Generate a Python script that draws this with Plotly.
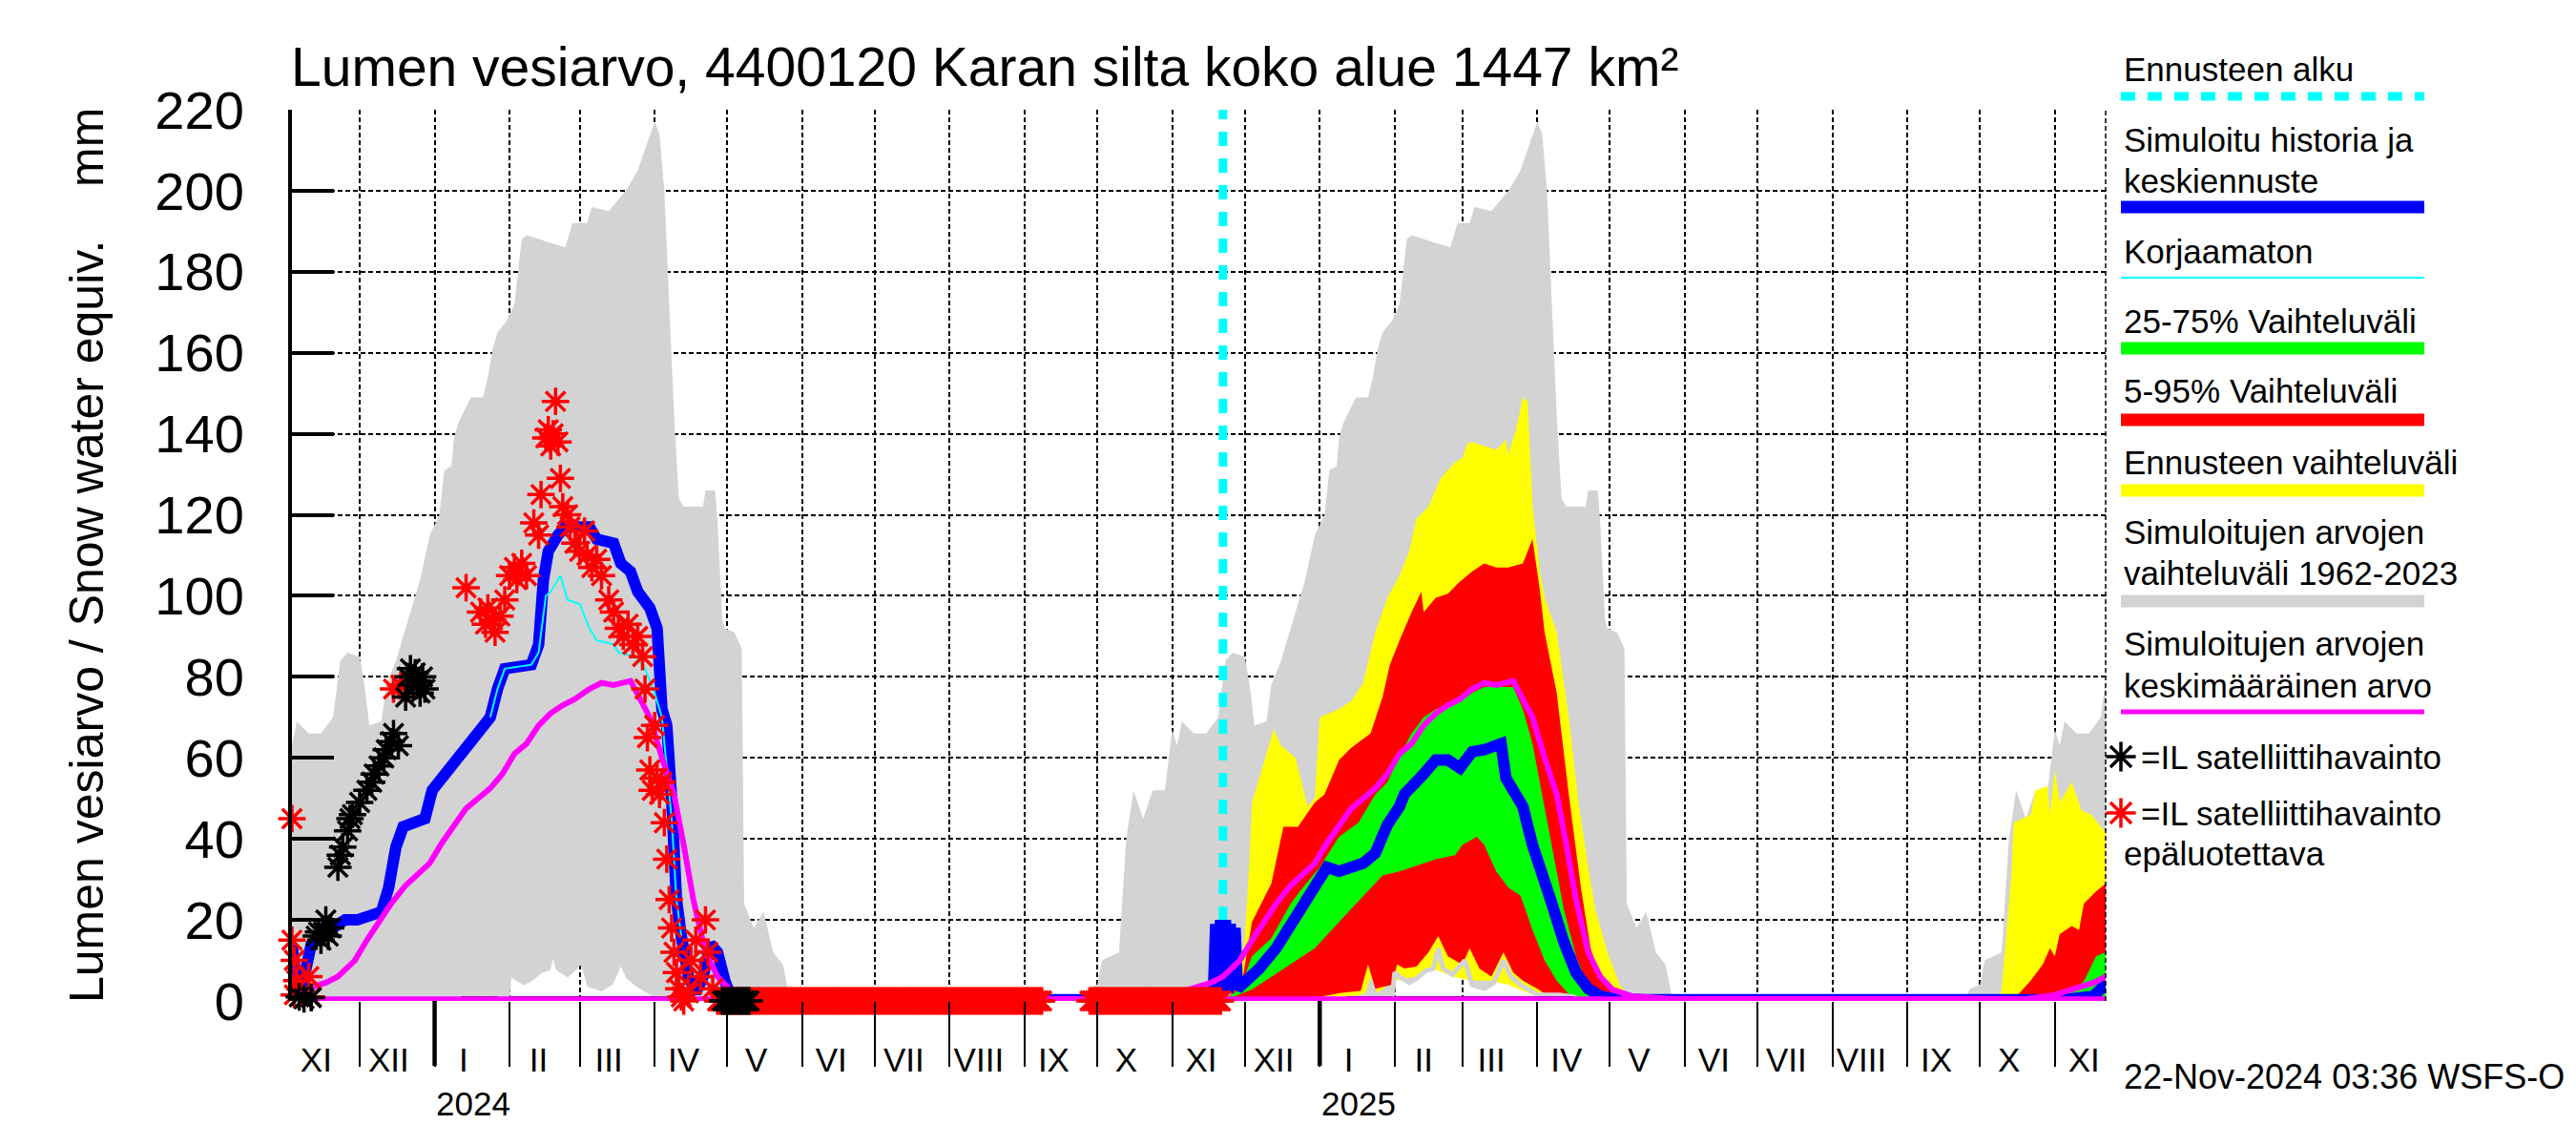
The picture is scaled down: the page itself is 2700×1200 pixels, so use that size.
import pandas as pd
import plotly.graph_objects as go

W, H = 2700, 1200
OFF = 8   # the page body adds an 8 px margin; pixel positions below are for the final picture
FONT = "Liberation Sans, Arial, Helvetica, sans-serif"
PL, PR, PT, PB = 306, 2207, 115, 1049   # plot area in pixels

X_RANGE = ["2023-11-03", "2025-11-22"]
Y_RANGE = [0, 220]
Y_TICKS = list(range(0, 221, 20))
FORECAST_START = "2024-11-22"
SEASONS = [2023, 2024, 2025]

# ---- climatology of simulated values 1962-2023 (same every season), month-day anchors
HIST_MAX = [("09-24", 0), ("09-27", 3), ("10-01", 4), ("10-03", 10), ("10-10", 12), ("10-13", 40),
            ("10-16", 52), ("10-20", 45), ("10-24", 52), ("10-29", 52), ("11-01", 67), ("11-03", 63),
            ("11-05", 69), ("11-10", 66), ("11-15", 66), ("11-20", 70), ("11-23", 84), ("11-26", 86),
            ("12-01", 85), ("12-03", 78), ("12-05", 68), ("12-10", 69), ("12-12", 78), ("12-16", 84),
            ("12-20", 92), ("12-26", 104), ("12-30", 115), ("01-03", 120), ("01-05", 131), ("01-08", 132),
            ("01-09", 139), ("01-11", 143), ("01-16", 149), ("01-21", 149), ("01-23", 154), ("01-25", 161),
            ("01-27", 165), ("01-31", 168), ("02-03", 172), ("02-06", 188), ("02-08", 189), ("02-24", 186),
            ("02-27", 192), ("03-04", 192), ("03-06", 196), ("03-13", 195), ("03-20", 200), ("03-25", 205),
            ("03-29", 212), ("04-01", 217), ("04-03", 214), ("04-05", 200), ("04-07", 172), ("04-09", 145),
            ("04-11", 124), ("04-13", 122), ("04-21", 122), ("04-22", 126), ("04-26", 126), ("04-27", 118),
            ("04-29", 94), ("04-30", 92), ("05-04", 91), ("05-07", 87), ("05-08", 24), ("05-12", 18),
            ("05-16", 22), ("05-20", 12), ("05-24", 9), ("05-27", 0)]
HIST_MIN = [("09-24", 0), ("12-31", 0), ("01-02", 0.5), ("01-31", 1), ("02-01", 7), ("02-03", 6),
            ("02-07", 4.5), ("02-10", 5.5), ("02-14", 7.5), ("02-17", 8), ("02-19", 13), ("02-21", 8),
            ("02-25", 6.5), ("03-02", 10), ("03-05", 4), ("03-10", 3), ("03-14", 4.5), ("03-18", 10),
            ("03-21", 6), ("03-25", 4), ("03-28", 3), ("04-01", 1.5), ("04-10", 1.5), ("04-16", 1),
            ("04-18", 0), ("05-27", 0)]
HIST_MEAN = [("10-01", 0.4), ("10-20", 0.5), ("11-01", 1.5), ("11-09", 3), ("11-17", 4.5), ("11-22", 6),
             ("11-29", 10), ("12-04", 15), ("12-09", 19.5), ("12-14", 24), ("12-20", 28.5), ("12-25", 31.5),
             ("12-30", 34), ("01-04", 39), ("01-09", 43.5), ("01-14", 47.5), ("01-19", 50), ("01-24", 52.5),
             ("01-29", 56), ("02-03", 61), ("02-08", 63.5), ("02-13", 68), ("02-18", 71), ("02-23", 73),
             ("02-28", 74.5), ("03-05", 77), ("03-10", 78.5), ("03-15", 78), ("03-22", 79), ("03-26", 74.5),
             ("03-30", 70), ("04-04", 60), ("04-09", 51), ("04-13", 38.5), ("04-17", 25), ("04-22", 12),
             ("04-27", 6), ("05-02", 2.8), ("05-10", 1.2), ("05-25", 0.6), ("06-15", 0.4), ("09-30", 0.4)]

# ---- simulated history + median forecast
BLUE = [("2023-11-03", 14), ("2023-11-04", 8), ("2023-11-05", 4), ("2023-11-07", 3), ("2023-11-09", 10),
        ("2023-11-11", 14), ("2023-11-15", 16), ("2023-11-20", 18), ("2023-11-25", 20), ("2023-11-30", 20),
        ("2023-12-05", 21), ("2023-12-10", 22), ("2023-12-13", 28), ("2023-12-16", 38), ("2023-12-19", 43),
        ("2023-12-28", 45), ("2023-12-31", 52), ("2024-01-04", 55), ("2024-01-08", 58), ("2024-01-12", 62),
        ("2024-01-16", 64), ("2024-01-20", 68), ("2024-01-24", 70), ("2024-01-27", 77), ("2024-01-30", 82),
        ("2024-02-10", 83), ("2024-02-13", 88), ("2024-02-15", 104), ("2024-02-17", 111), ("2024-02-21", 115),
        ("2024-02-24", 117), ("2024-03-05", 117), ("2024-03-08", 114), ("2024-03-15", 113), ("2024-03-18", 108),
        ("2024-03-22", 106), ("2024-03-25", 101), ("2024-03-30", 97), ("2024-04-02", 92), ("2024-04-04", 72),
        ("2024-04-06", 68), ("2024-04-08", 50), ("2024-04-10", 25), ("2024-04-12", 16), ("2024-04-15", 6),
        ("2024-04-18", 2), ("2024-04-21", 6), ("2024-04-24", 14), ("2024-04-27", 12), ("2024-04-30", 5),
        ("2024-05-03", 0.3), ("2024-10-28", 0.3), ("2024-11-05", 1), ("2024-11-15", 1.5), ("2024-11-18", 1),
        ("2024-11-19", 19), ("2024-11-20", 3), ("2024-11-21", 20), ("2024-11-22", 3), ("2024-11-23", 20),
        ("2024-11-24", 2), ("2024-11-25", 19), ("2024-11-26", 4), ("2024-11-27", 18), ("2024-11-28", 3),
        ("2024-12-02", 5), ("2024-12-07", 8), ("2024-12-14", 13), ("2024-12-20", 18.5), ("2024-12-25", 24),
        ("2024-12-30", 28), ("2025-01-04", 33), ("2025-01-09", 32), ("2025-01-14", 33), ("2025-01-19", 34),
        ("2025-01-24", 36.5), ("2025-01-29", 43.5), ("2025-02-03", 48), ("2025-02-05", 51), ("2025-02-13", 56),
        ("2025-02-18", 59.5), ("2025-02-23", 59.5), ("2025-02-28", 57.5), ("2025-03-05", 61.5),
        ("2025-03-10", 62), ("2025-03-17", 63.5), ("2025-03-19", 55), ("2025-03-22", 52), ("2025-03-26", 48),
        ("2025-03-30", 38.5), ("2025-04-03", 32), ("2025-04-07", 24), ("2025-04-12", 14.5), ("2025-04-17", 7),
        ("2025-04-22", 3), ("2025-04-27", 1.2), ("2025-05-02", 0.6), ("2025-05-15", 0.3), ("2025-11-05", 0.3),
        ("2025-11-12", 0.6), ("2025-11-17", 1.2), ("2025-11-21", 3.5), ("2025-11-22", 3)]

# ---- uncorrected simulation (only where it differs from the corrected one)
UNCORRECTED = [("2024-01-24", 70), ("2024-01-27", 77), ("2024-01-30", 82), ("2024-02-10", 83),
               ("2024-02-13", 86), ("2024-02-16", 100), ("2024-02-18", 101), ("2024-02-22", 105),
               ("2024-02-25", 99), ("2024-03-01", 98), ("2024-03-05", 92), ("2024-03-08", 89),
               ("2024-03-15", 88), ("2024-03-17", 86), ("2024-03-24", 85), ("2024-03-28", 82),
               ("2024-04-01", 76), ("2024-04-04", 70), ("2024-04-08", 45), ("2024-04-10", 25), ("2024-04-12", 16)]

# ---- forecast ranges
YELLOW_HI = [("2024-11-22", 0), ("2024-11-26", 2), ("2024-11-29", 8), ("2024-12-01", 15), ("2024-12-03", 35),
             ("2024-12-04", 49), ("2024-12-09", 59), ("2024-12-13", 67), ("2024-12-16", 63), ("2024-12-22", 60),
             ("2024-12-27", 48), ("2024-12-30", 50), ("2025-01-01", 70), ("2025-01-09", 72), ("2025-01-14", 74),
             ("2025-01-19", 78.5), ("2025-01-24", 91), ("2025-01-29", 99.5), ("2025-02-03", 105),
             ("2025-02-07", 111), ("2025-02-10", 119), ("2025-02-15", 122), ("2025-02-20", 129),
             ("2025-02-26", 133), ("2025-03-01", 134), ("2025-03-03", 137.5), ("2025-03-05", 138),
             ("2025-03-10", 137), ("2025-03-15", 136), ("2025-03-19", 138.5), ("2025-03-20", 135),
             ("2025-03-23", 140.5), ("2025-03-26", 149), ("2025-03-28", 148), ("2025-03-30", 122.5),
             ("2025-04-02", 106), ("2025-04-04", 99.5), ("2025-04-09", 91), ("2025-04-14", 70), ("2025-04-18", 49),
             ("2025-04-22", 33), ("2025-04-25", 22.5), ("2025-04-30", 12), ("2025-05-05", 4), ("2025-05-10", 0.5),
             ("2025-05-12", 0), ("2025-10-09", 0), ("2025-10-10", 3), ("2025-10-12", 17), ("2025-10-14", 31),
             ("2025-10-15", 44), ("2025-10-22", 46), ("2025-10-24", 52), ("2025-10-29", 53), ("2025-10-30", 46),
             ("2025-11-01", 57), ("2025-11-03", 49), ("2025-11-07", 53), ("2025-11-08", 54), ("2025-11-12", 47),
             ("2025-11-16", 46), ("2025-11-22", 41.5)]
YELLOW_LO = [("2024-11-22", 0), ("2025-01-01", 0.5), ("2025-01-15", 1), ("2025-01-20", 2), ("2025-01-22", 6),
             ("2025-01-25", 2), ("2025-02-01", 5), ("2025-02-10", 6), ("2025-02-17", 8), ("2025-02-25", 6),
             ("2025-03-05", 5), ("2025-03-12", 5), ("2025-03-20", 4), ("2025-03-28", 2), ("2025-04-05", 0.5),
             ("2025-04-10", 0), ("2025-11-22", 0)]
RED_HI = [("2024-11-22", 0), ("2024-11-26", 2), ("2024-11-30", 5), ("2024-12-02", 12), ("2024-12-04", 19.5),
          ("2024-12-12", 29), ("2024-12-17", 43), ("2024-12-23", 43), ("2024-12-30", 49), ("2025-01-03", 51),
          ("2025-01-09", 59.5), ("2025-01-14", 62.5), ("2025-01-22", 66), ("2025-01-27", 75), ("2025-01-30", 83),
          ("2025-02-03", 89), ("2025-02-08", 96), ("2025-02-12", 101), ("2025-02-13", 96), ("2025-02-18", 99.5),
          ("2025-02-23", 100.5), ("2025-02-28", 103.5), ("2025-03-05", 106), ("2025-03-10", 108),
          ("2025-03-15", 107), ("2025-03-20", 107), ("2025-03-26", 108), ("2025-03-30", 114), ("2025-04-02", 101.5),
          ("2025-04-04", 91), ("2025-04-09", 76), ("2025-04-14", 51), ("2025-04-19", 28), ("2025-04-23", 13),
          ("2025-04-27", 6), ("2025-05-02", 1.7), ("2025-05-07", 0), ("2025-10-15", 0), ("2025-10-17", 1.7),
          ("2025-10-22", 5), ("2025-10-27", 9), ("2025-10-30", 13), ("2025-11-01", 11), ("2025-11-03", 16.5),
          ("2025-11-08", 18.5), ("2025-11-11", 17.5), ("2025-11-13", 24), ("2025-11-18", 27), ("2025-11-22", 29)]
RED_LO = [("2024-11-22", 0), ("2024-12-01", 0.5), ("2024-12-30", 0.5), ("2025-01-01", 1), ("2025-01-10", 2),
          ("2025-01-18", 2.5), ("2025-01-21", 9), ("2025-01-24", 3), ("2025-01-31", 4), ("2025-02-02", 9),
          ("2025-02-05", 8), ("2025-02-10", 8.5), ("2025-02-15", 12), ("2025-02-19", 16), ("2025-02-23", 11),
          ("2025-03-01", 9), ("2025-03-04", 13), ("2025-03-08", 8), ("2025-03-13", 6), ("2025-03-18", 12),
          ("2025-03-22", 7), ("2025-03-26", 5), ("2025-04-01", 3), ("2025-04-06", 1), ("2025-04-12", 0),
          ("2025-11-22", 0)]
GREEN_HI = [("2024-11-22", 0), ("2024-11-29", 3), ("2024-12-04", 11), ("2024-12-12", 15.5), ("2024-12-20", 24),
            ("2024-12-25", 28), ("2025-01-01", 33), ("2025-01-09", 40.5), ("2025-01-17", 44), ("2025-01-24", 51),
            ("2025-01-29", 54), ("2025-02-03", 60.5), ("2025-02-08", 66), ("2025-02-13", 70), ("2025-02-18", 72),
            ("2025-02-23", 73), ("2025-02-28", 74), ("2025-03-05", 76), ("2025-03-10", 77.5), ("2025-03-22", 77.5),
            ("2025-03-26", 72), ("2025-03-30", 63.5), ("2025-04-03", 51), ("2025-04-07", 38.5), ("2025-04-12", 22.5),
            ("2025-04-17", 11), ("2025-04-22", 3.7), ("2025-04-27", 1.2), ("2025-05-02", 0), ("2025-11-04", 0),
            ("2025-11-06", 1.7), ("2025-11-13", 4.8), ("2025-11-18", 11), ("2025-11-22", 12)]
GREEN_LO = [("2024-11-22", 0), ("2024-12-04", 2.8), ("2024-12-12", 6), ("2024-12-20", 9), ("2024-12-30", 13),
            ("2025-01-09", 19.5), ("2025-01-19", 26), ("2025-01-27", 31), ("2025-02-03", 32), ("2025-02-08", 33),
            ("2025-02-18", 35), ("2025-02-26", 36), ("2025-03-01", 38.5), ("2025-03-07", 40.5), ("2025-03-10", 38.5),
            ("2025-03-15", 32), ("2025-03-20", 28), ("2025-03-25", 26), ("2025-03-30", 17.5), ("2025-04-04", 10),
            ("2025-04-09", 5), ("2025-04-14", 1.7), ("2025-04-20", 0), ("2025-11-22", 0)]

# ---- thin black line at the bottom of the winters
BLACK_BASE = [("2024-01-12", 0.6), ("2024-01-27", 0.6), (None, None), ("2024-02-01", 0.6), ("2024-04-13", 0.6),
              (None, None), ("2025-01-12", 0.6), ("2025-01-31", 0.6), (None, None), ("2025-02-01", 0.6),
              ("2025-04-16", 0.6)]

# ---- satellite observations
SAT_OK = [("2023-11-06", 1), ("2023-11-08", 0.5), ("2023-11-11", 0.8), ("2023-11-13", 16), ("2023-11-14", 17),
          ("2023-11-15", 15), ("2023-11-16", 17), ("2023-11-17", 20), ("2023-11-18", 16), ("2023-11-19", 18),
          ("2023-11-22", 33), ("2023-11-23", 36), ("2023-11-24", 38), ("2023-11-26", 42), ("2023-11-27", 45),
          ("2023-11-28", 46), ("2023-12-01", 49), ("2023-12-04", 52), ("2023-12-06", 54), ("2023-12-07", 56),
          ("2023-12-09", 58), ("2023-12-11", 60), ("2023-12-12", 62), ("2023-12-14", 64), ("2023-12-15", 66),
          ("2023-12-17", 63), ("2023-12-20", 75), ("2023-12-21", 80), ("2023-12-22", 82), ("2023-12-23", 78),
          ("2023-12-24", 81), ("2023-12-25", 79), ("2023-12-26", 76), ("2023-12-27", 80), ("2023-12-28", 77)]
SAT_OK_ZERO_PERIODS = [("2024-04-29", "2024-05-10")]
SAT_BAD = [("2023-11-03", 45), ("2023-11-03", 15), ("2023-11-04", 10), ("2023-11-05", 5), ("2023-11-04", 1.5),
           ("2023-11-10", 6), ("2023-11-11", 1), ("2023-12-15", 77), ("2023-12-18", 78), ("2023-12-21", 77),
           ("2024-01-14", 102), ("2024-01-20", 96), ("2024-01-22", 93), ("2024-01-23", 97), ("2024-01-25", 94),
           ("2024-01-26", 91), ("2024-01-28", 95), ("2024-01-30", 99), ("2024-02-01", 105), ("2024-02-03", 107),
           ("2024-02-04", 104), ("2024-02-06", 108), ("2024-02-08", 105), ("2024-02-11", 118), ("2024-02-13", 115),
           ("2024-02-14", 125), ("2024-02-16", 139), ("2024-02-17", 141), ("2024-02-18", 137), ("2024-02-19", 140),
           ("2024-02-20", 148), ("2024-02-21", 138), ("2024-02-22", 129), ("2024-02-23", 122), ("2024-02-25", 120),
           ("2024-02-26", 117), ("2024-02-28", 113), ("2024-03-01", 111), ("2024-03-03", 116), ("2024-03-04", 110),
           ("2024-03-06", 107), ("2024-03-08", 109), ("2024-03-10", 105), ("2024-03-13", 99), ("2024-03-15", 96),
           ("2024-03-17", 92), ("2024-03-19", 90), ("2024-03-21", 93), ("2024-03-23", 88), ("2024-03-25", 90),
           ("2024-03-27", 85), ("2024-03-28", 77), ("2024-03-29", 65), ("2024-03-30", 57), ("2024-03-31", 52),
           ("2024-04-01", 68), ("2024-04-02", 55), ("2024-04-03", 51), ("2024-04-04", 54), ("2024-04-05", 44),
           ("2024-04-06", 35), ("2024-04-07", 25), ("2024-04-08", 18), ("2024-04-09", 12), ("2024-04-10", 7),
           ("2024-04-11", 3), ("2024-04-12", 1), ("2024-04-13", 0), ("2024-04-15", 2), ("2024-04-16", 10),
           ("2024-04-18", 15), ("2024-04-20", 6), ("2024-04-22", 20), ("2024-04-23", 12), ("2024-04-25", 3)]
SAT_BAD_ZERO_PERIODS = [("2024-04-27", "2024-09-08"), ("2024-09-28", "2024-11-21")]

MONTH_NAMES = ["I", "II", "III", "IV", "V", "VI", "VII", "VIII", "IX", "X", "XI", "XII"]
YEAR_LABELS = [("2024-01-17", "2024"), ("2025-01-17", "2025")]

TITLE = "Lumen vesiarvo, 4400120 Karan silta koko alue 1447 km²"
YTITLE = "Lumen vesiarvo / Snow water equiv.    mm"
FOOTER = "22-Nov-2024 03:36 WSFS-O"

GREY, YELLOW, RED, GREEN = "#d3d3d3", "#ffff00", "#ff0000", "#00ff00"
BLUE_C, CYAN, MAGENTA = "#0000ff", "#00ffff", "#ff00ff"


def season_dates(pairs, start_year):
    return [f"{start_year if int(md[:2]) >= 8 else start_year + 1}-{md}" for md, _ in pairs]


def xs(pairs):
    return [p[0] for p in pairs]


def ys(pairs):
    return [p[1] for p in pairs]


def zero_run(periods):
    d = []
    for a, b in periods:
        d += [t.strftime("%Y-%m-%d") for t in pd.date_range(a, b, freq="D")]
    return d


def band(hi, lo, color):
    return go.Scatter(x=xs(hi) + xs(lo)[::-1], y=ys(hi) + ys(lo)[::-1], fill="toself", fillcolor=color,
                      mode="lines", line=dict(width=0, color=color), hoverinfo="skip", showlegend=False)


fig = go.Figure()

# historical range (grey)
for sy in SEASONS:
    fig.add_trace(go.Scatter(x=season_dates(HIST_MAX, sy) + season_dates(HIST_MIN, sy)[::-1],
                             y=ys(HIST_MAX) + ys(HIST_MIN)[::-1], fill="toself", fillcolor=GREY,
                             mode="lines", line=dict(width=0, color=GREY), showlegend=False, hoverinfo="skip"))
fig.add_trace(band(YELLOW_HI, YELLOW_LO, YELLOW))
fig.add_trace(band(RED_HI, RED_LO, RED))
fig.add_trace(band(GREEN_HI, GREEN_LO, GREEN))

# historical minimum drawn as a line over the forecast bands
for sy in SEASONS:
    fig.add_trace(go.Scatter(x=season_dates(HIST_MIN[1:-1], sy), y=ys(HIST_MIN[1:-1]), mode="lines",
                             line=dict(color=GREY, width=5), showlegend=False, hoverinfo="skip"))

fig.add_trace(go.Scatter(x=xs(BLACK_BASE), y=ys(BLACK_BASE), mode="lines", line=dict(color="black", width=5),
                         connectgaps=False, showlegend=False, hoverinfo="skip"))

# forecast start
fig.add_trace(go.Scatter(x=[FORECAST_START, FORECAST_START], y=Y_RANGE, mode="lines",
                         line=dict(color=CYAN, width=9, dash="15px,13px"), showlegend=False, hoverinfo="skip"))

fig.add_trace(go.Scatter(x=xs(BLUE), y=ys(BLUE), mode="lines", line=dict(color=BLUE_C, width=12),
                         cliponaxis=False, showlegend=False))
fig.add_trace(go.Scatter(x=xs(UNCORRECTED), y=ys(UNCORRECTED), mode="lines", line=dict(color=CYAN, width=2),
                         showlegend=False))
mean_x, mean_y = [], []
for sy in SEASONS:
    mean_x += season_dates(HIST_MEAN, sy)
    mean_y += ys(HIST_MEAN)
fig.add_trace(go.Scatter(x=mean_x, y=mean_y, mode="lines", line=dict(color=MAGENTA, width=6),
                         cliponaxis=False, showlegend=False))

bad_zero = zero_run(SAT_BAD_ZERO_PERIODS)
ok_zero = zero_run(SAT_OK_ZERO_PERIODS)
MARK = dict(symbol="asterisk-open", size=24)
fig.add_trace(go.Scatter(x=xs(SAT_BAD) + bad_zero, y=ys(SAT_BAD) + [0] * len(bad_zero), mode="markers",
                         marker=dict(MARK, color=RED, line=dict(width=3.5, color=RED)), cliponaxis=False,
                         showlegend=False))
fig.add_trace(go.Scatter(x=xs(SAT_OK) + ok_zero, y=ys(SAT_OK) + [0] * len(ok_zero), mode="markers",
                         marker=dict(MARK, color="black", line=dict(width=3.5, color="black")), cliponaxis=False,
                         showlegend=False))

# ---- legend symbols on a pixel-space helper axis
fig.add_trace(go.Scatter(x=[2223, 2223], y=[793, 852], xaxis="x2", yaxis="y2", mode="markers",
                         marker=dict(symbol="asterisk-open", size=26, color=["black", RED],
                                     line=dict(width=3.5, color=["black", RED])),
                         cliponaxis=False, showlegend=False, hoverinfo="skip"))

# ---- axis ticks
months = pd.date_range("2023-11-01", "2025-11-01", freq="MS")
label_pos = [(m + pd.Timedelta(days=12)).strftime("%Y-%m-%d") for m in months]
label_txt = [MONTH_NAMES[m.month - 1] for m in months]
month_starts = [m.strftime("%Y-%m-%d") for m in months[1:]]


def X(p):
    return (p - OFF) / W


def Y(p):
    return 1 - (p - OFF) / H


fig.update_layout(
    width=W, height=H, margin=dict(l=0, r=0, t=0, b=0, pad=0, autoexpand=False), autosize=False,
    paper_bgcolor="white", plot_bgcolor="rgba(0,0,0,0)",
    font=dict(family=FONT, color="black"),
    xaxis=dict(domain=[X(PL), X(PR)], range=X_RANGE, type="date", anchor="y", automargin=False,
               tickmode="array", tickvals=label_pos, ticktext=label_txt, ticks="", showgrid=False,
               tickfont=dict(size=35), ticklabelstandoff=38, showline=False, zeroline=False,
               minor=dict(tickmode="array", tickvals=month_starts, ticks="outside", ticklen=68,
                          tickwidth=1.5, tickcolor="black", showgrid=True, gridcolor="black",
                          griddash="5px,3px", gridwidth=1.5)),
    yaxis=dict(domain=[Y(PB), Y(PT)], range=Y_RANGE, anchor="x", automargin=False, tickmode="array",
               tickvals=Y_TICKS, ticks="inside", ticklen=44, tickwidth=3.5, tickcolor="black", showline=True,
               linewidth=4, linecolor="black", showgrid=True, gridcolor="black", griddash="5px,3px",
               gridwidth=1.5, zeroline=False, tickfont=dict(size=56), ticklabelstandoff=35),
    xaxis2=dict(domain=[0, 1], range=[OFF, W + OFF], visible=False, anchor="y2", automargin=False),
    yaxis2=dict(domain=[0, 1], range=[H + OFF, OFF], visible=False, anchor="x2", automargin=False),
    showlegend=False,
)

ann = [
    dict(x=X(303), y=Y(70), text=TITLE, xanchor="left", yanchor="middle", font=dict(size=57)),
    dict(x=X(91), y=Y((PT + PB) / 2), text=YTITLE, textangle=-90, xanchor="center", yanchor="middle",
         font=dict(size=50)),
    dict(x=X(2224), y=Y(1128), text=FOOTER, xanchor="left", yanchor="middle", font=dict(size=36)),
]
for d, t in YEAR_LABELS:
    ann.append(dict(x=d, xref="x", y=Y(1156), yref="paper", text=t, xanchor="center", yanchor="middle",
                    font=dict(size=35)))

LEG_TEXT = [(72, "Ennusteen alku"), (146, "Simuloitu historia ja"), (189, "keskiennuste"), (263, "Korjaamaton"),
            (336, "25-75% Vaihteluväli"), (410, "5-95% Vaihteluväli"), (484, "Ennusteen vaihteluväli"),
            (558, "Simuloitujen arvojen"), (600, "vaihteluväli 1962-2023"), (674, "Simuloitujen arvojen"),
            (718, "keskimääräinen arvo"), (894, "epäluotettava")]
for py, t in LEG_TEXT:
    ann.append(dict(x=X(2224), y=Y(py), text=t, xanchor="left", yanchor="middle", font=dict(size=35)))
for py in (793, 852):
    ann.append(dict(x=X(2242), y=Y(py), text="=IL satelliittihavainto", xanchor="left", yanchor="middle",
                    font=dict(size=35)))
for a in ann:
    a.setdefault("xref", "paper")
    a.setdefault("yref", "paper")
    a["showarrow"] = False
fig.update_layout(annotations=ann)

shapes = []
for d in ["2024-01-01", "2025-01-01"]:
    shapes.append(dict(type="line", xref="x", yref="paper", x0=d, x1=d, y0=Y(PB), y1=Y(PB + 68),
                       line=dict(color="black", width=4.5)))
shapes.append(dict(type="line", xref="paper", yref="paper", x0=X(PR), x1=X(PR), y0=Y(PB), y1=Y(PT),
                   line=dict(color="black", width=1.5, dash="5px,3px")))
LEG_LINES = [(101, CYAN, 9, "15px,13px"), (217, BLUE_C, 13, "solid"), (291, CYAN, 2, "solid"),
             (365, GREEN, 13, "solid"), (440, RED, 13, "solid"), (514, YELLOW, 13, "solid"),
             (630, GREY, 13, "solid"), (746, MAGENTA, 5, "solid")]
for py, c, w, dsh in LEG_LINES:
    shapes.append(dict(type="line", xref="paper", yref="paper", x0=X(2223), x1=X(2541), y0=Y(py), y1=Y(py),
                       line=dict(color=c, width=w, dash=dsh)))
fig.update_layout(shapes=shapes)

fig.write_html("out.html", config={"displayModeBar": False})
